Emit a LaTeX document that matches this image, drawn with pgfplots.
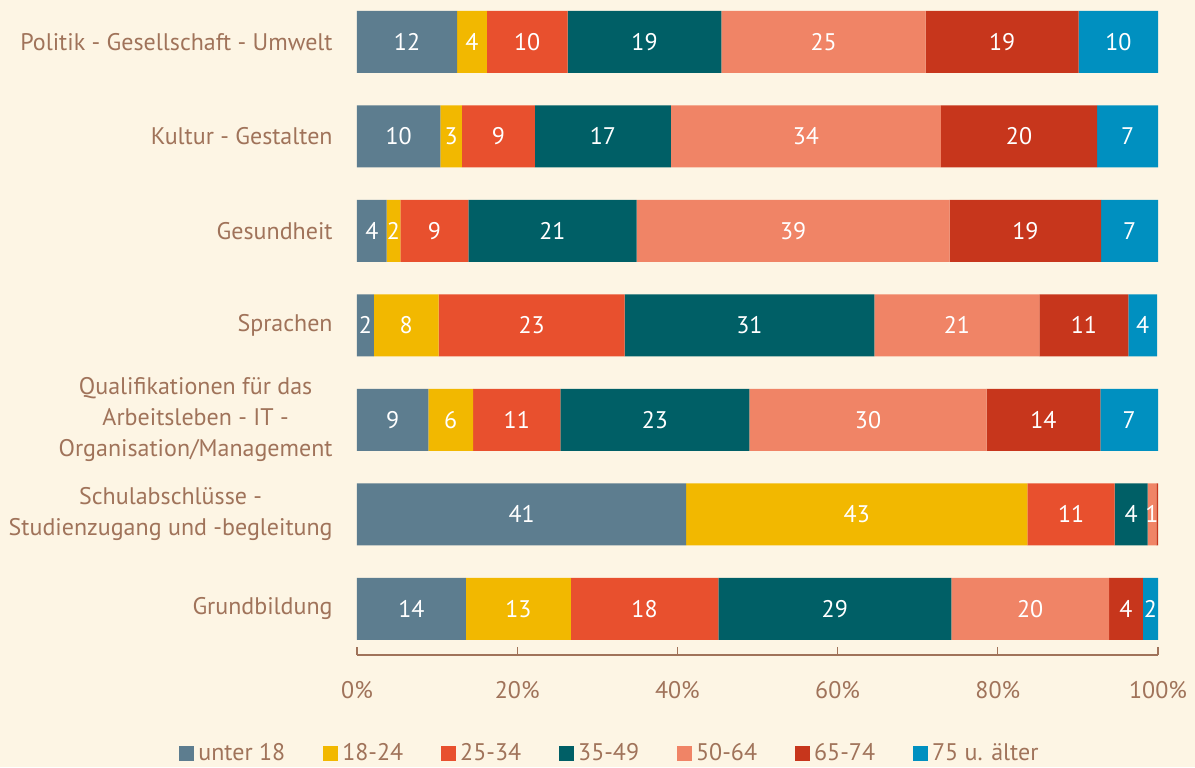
\documentclass[border=0pt]{standalone}
\usepackage{fontspec}
\setmainfont{PT Sans}
\usepackage{pgfplots}
\pgfplotsset{compat=1.18}
\definecolor{bg}{HTML}{FDF5E4}
\definecolor{txt}{HTML}{A0735A}
\definecolor{cA}{HTML}{5D7D8F}
\definecolor{cB}{HTML}{F2B800}
\definecolor{cC}{HTML}{E8502E}
\definecolor{cD}{HTML}{005F66}
\definecolor{cE}{HTML}{F08466}
\definecolor{cF}{HTML}{C7361C}
\definecolor{cG}{HTML}{0090C0}
\newcommand{\fs}{\fontsize{12}{15.5}\selectfont}
\begin{document}
\begin{tikzpicture}
\fill[bg] (0,0) rectangle (597.5pt,383.5pt);
\begin{axis}[
  at={(178.5pt,56pt)}, anchor=south west,
  scale only axis, width=400.5pt, height=330.2pt,
  xmin=0, xmax=100, ymin=-0.487, ymax=6.5,
  xbar stacked, bar width=31pt,
  axis x line*=bottom, axis y line*=left,
  y axis line style={draw=none},
  x axis line style={draw=txt, line width=0.75pt, -},
  xtick={0,20,40,60,80,100},
  xticklabel={\pgfmathprintnumber{\tick}\%},
  /pgf/number format/assume math mode=true,
  tick align=inside, major tick length=4pt,
  xtick style={draw=txt, line width=0.6pt},
  ytick style={draw=none},
  xticklabel style={font=\fs, text=txt, anchor=center, yshift=-17.5pt},
  ytick={0,1,2,3,4,5,6},
  yticklabels={Grundbildung, {Schulabschlüsse -\\Studienzugang und -begleitung}, {Qualifikationen für das\\Arbeitsleben - IT -\\Organisation/Management}, Sprachen, Gesundheit, {Kultur - Gestalten}, {Politik - Gesellschaft - Umwelt}},
  yticklabel style={font=\fs, text=txt, align=center, anchor=east, inner sep=0pt, xshift=-12pt},
  point meta=explicit symbolic,
  nodes near coords,
  every node near coord/.append style={font=\fs, text=white, anchor=center},
  every axis plot post/.append style={legend image code/.code={\fill[##1] (-1.5pt,-3.6pt) rectangle (6pt,3.6pt);}},
  legend columns=7,
  legend style={draw=none, fill=none, font=\fs, text=txt, at={(0.317,-0.149)}, anchor=center,
    nodes={inner ysep=1pt},
    /tikz/every even column/.append style={column sep=17pt}},
]
\addplot[fill=cA, draw=none] table[x=x,y=y,meta=m] {
x y m
12.5 6 12
10.4 5 10
3.7 4 4
2.1 3 2
8.9 2 9
41.1 1 41
13.6 0 14
};
\addplot[fill=cB, draw=none] table[x=x,y=y,meta=m] {
x y m
3.7 6 4
2.7 5 3
1.7 4 2
8.1 3 8
5.6 2 6
42.6 1 43
13.1 0 13
};
\addplot[fill=cC, draw=none] table[x=x,y=y,meta=m] {
x y m
10.1 6 10
9.1 5 9
8.5 4 9
23.2 3 23
10.9 2 11
10.9 1 11
18.4 0 18
};
\addplot[fill=cD, draw=none] table[x=x,y=y,meta=m] {
x y m
19.2 6 19
17.0 5 17
21.0 4 21
31.2 3 31
23.6 2 23
4.1 1 4
29.1 0 29
};
\addplot[fill=cE, draw=none] table[x=x,y=y,meta=m] {
x y m
25.5 6 25
33.7 5 34
39.1 4 39
20.6 3 21
29.6 2 30
1.1 1 1
19.7 0 20
};
\addplot[fill=cF, draw=none] table[x=x,y=y,meta=m] {
x y m
19.1 6 19
19.5 5 20
18.9 4 19
11.1 3 11
14.2 2 14
0.2 1 {}
4.2 0 4
};
\addplot[fill=cG, draw=none] table[x=x,y=y,meta=m] {
x y m
9.9 6 10
7.6 5 7
7.1 4 7
3.6 3 4
7.2 2 7
0.0 1 {}
1.9 0 2
};
\legend{unter 18, 18-24, 25-34, 35-49, 50-64, 65-74, 75 u. älter}
\end{axis}
\pgfresetboundingbox
\path[use as bounding box] (0,0) rectangle (597.5pt,383.5pt);
\end{tikzpicture}
\end{document}
